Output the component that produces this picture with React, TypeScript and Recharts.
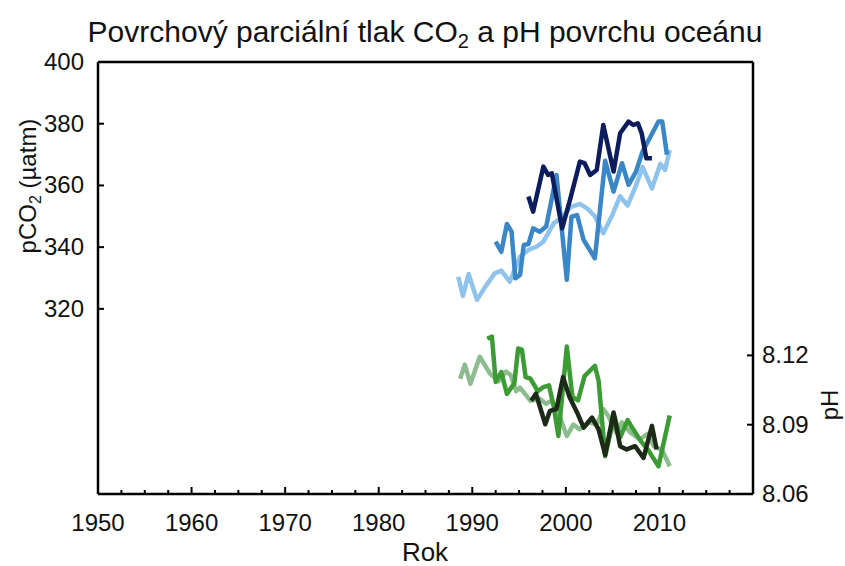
import React from "react";
import { LineChart, Line, XAxis, YAxis } from "recharts";

// pCO2 series (µatm)
const lightBlueYears = [1988.5, 1989.0, 1989.6, 1990.5, 1991.4, 1992.4, 1993.1, 1994.0, 1995.1, 1996.0, 1996.9, 1997.6, 1998.7, 1999.7, 2000.5, 2001.5, 2002.3, 2003.1, 2004.0, 2004.9, 2005.8, 2006.6, 2007.5, 2008.2, 2009.2, 2010.1, 2010.6, 2011.1];
const lightBlueCo2 = [330.4, 324.2, 331.3, 322.9, 327.2, 331.5, 332.4, 328.8, 336.9, 339.1, 340.2, 341.8, 347.7, 349.9, 353, 354, 352.5, 350, 344.5, 350, 356.5, 353.5, 360, 366, 359, 367, 365, 371.5];

const midBlueYears = [1992.5, 1993.1, 1993.7, 1994.2, 1994.6, 1995.1, 1995.5, 1996.0, 1996.5, 1997.2, 1997.9, 1999.0, 2000.1, 2000.6, 2001.2, 2001.9, 2003.1, 2004.2, 2005.1, 2006.0, 2006.7, 2007.5, 2008.2, 2009.9, 2010.3, 2010.8];
const midBlueCo2 = [341.8, 338.5, 347.5, 345, 329.9, 331, 340.7, 341, 346.1, 345, 346.7, 363.4, 329.4, 349.9, 350.4, 342.3, 336.4, 368, 358, 367.2, 360.2, 364.5, 371, 380.7, 380.7, 370];

const navyYears = [1996.0, 1996.5, 1997.6, 1998.1, 1998.5, 1999.6, 2000.4, 2001.5, 2002.0, 2002.6, 2003.3, 2004.0, 2005.1, 2005.8, 2006.7, 2007.2, 2007.7, 2008.1, 2008.6, 2009.2];
const navyCo2 = [356.4, 351.5, 366.1, 363.4, 363.9, 346.1, 354.8, 367.7, 367.2, 363.4, 365, 379.6, 364.5, 376.9, 380.7, 379.6, 380.1, 376.9, 368.8, 368.8];

// pH series
const lightGreenYears = [1988.7, 1989.2, 1989.8, 1990.8, 1991.9, 1992.8, 1993.6, 1994.1, 1994.7, 1995.1, 1995.7, 1996.2, 1997.2, 1997.9, 1998.5, 1999.4, 2000.1, 2000.8, 2001.5, 2002.5, 2003.3, 2004.0, 2004.5, 2005.4, 2006.0, 2006.9, 2007.9, 2008.7, 2009.4, 2010.3, 2011.1];
const lightGreenPh = [8.1099, 8.116, 8.1077, 8.1194, 8.1121, 8.1088, 8.113, 8.1115, 8.1045, 8.106, 8.103, 8.1004, 8.1012, 8.099, 8.1005, 8.093, 8.0851, 8.09, 8.088, 8.091, 8.09, 8.0968, 8.094, 8.0866, 8.091, 8.0866, 8.0836, 8.086, 8.0807, 8.079, 8.072];

const midGreenYears = [1991.6, 1992.1, 1992.5, 1993.1, 1993.7, 1994.5, 1994.9, 1995.3, 1995.7, 1996.2, 1997.0, 1997.6, 1998.2, 1998.7, 1999.2, 2000.1, 2000.7, 2001.3, 2002.0, 2003.1, 2003.5, 2004.2, 2004.8, 2005.2, 2005.8, 2006.6, 2007.2, 2008.0, 2008.8, 2009.9, 2011.1];
const midGreenPh = [8.1272, 8.1281, 8.1085, 8.1128, 8.1033, 8.108, 8.123, 8.1225, 8.1106, 8.11, 8.1045, 8.1063, 8.107, 8.098, 8.0851, 8.1238, 8.102, 8.1005, 8.111, 8.1155, 8.109, 8.0763, 8.087, 8.0935, 8.0845, 8.092, 8.088, 8.083, 8.079, 8.072, 8.094];

const darkGreenYears = [1996.3, 1996.8, 1997.8, 1998.3, 1999.0, 1999.7, 2000.4, 2001.2, 2001.9, 2002.8, 2003.5, 2004.2, 2005.1, 2005.8, 2006.5, 2007.4, 2008.3, 2009.2, 2009.7];
const darkGreenPh = [8.1004, 8.1034, 8.0902, 8.096, 8.0968, 8.1106, 8.1019, 8.0953, 8.0887, 8.0931, 8.088, 8.077, 8.0953, 8.0807, 8.0793, 8.0807, 8.0756, 8.0895, 8.0793];

// ticks
const xTicks = [1950, 1952.5, 1955, 1957.5, 1960, 1962.5, 1965, 1967.5, 1970, 1972.5, 1975, 1977.5, 1980, 1982.5, 1985, 1987.5, 1990, 1992.5, 1995, 1997.5, 2000, 2002.5, 2005, 2007.5, 2010, 2012.5, 2015, 2017.5];
const topTicks = [1960, 1970, 1980, 1990, 2000, 2010];
const co2Ticks = [320, 340, 360, 380, 400];
const phTicks = [8.06, 8.09, 8.12];

const toPoints = (years: number[], vals: number[]) =>
  years.map((year, i) => ({ year, value: vals[i] }));

const FONT = "'Liberation Sans', Arial, sans-serif";
const TICK_FS = 24;

const BottomTick = (props: any) => {
  const { x, y, payload } = props;
  const v = payload.value;
  const major = v % 10 === 0;
  return (
    <g>
      <line x1={x} x2={x} y1={y} y2={y - (major ? 7 : 4)} stroke="#000" strokeWidth={2} />
      {major && v <= 2010 && (
        <text x={x} y={y + 37} textAnchor="middle" fontSize={TICK_FS} fontFamily={FONT} fill="#111">
          {v}
        </text>
      )}
    </g>
  );
};

const TopTick = (props: any) => {
  const { x, y } = props;
  return <line x1={x} x2={x} y1={y} y2={y + 7} stroke="#000" strokeWidth={2} />;
};

const LeftTick = (props: any) => {
  const { x, y, payload } = props;
  return (
    <g>
      <line x1={x} x2={x + 6} y1={y} y2={y} stroke="#000" strokeWidth={2} />
      <text x={x - 14} y={y + 8} textAnchor="end" fontSize={TICK_FS} fontFamily={FONT} fill="#111">
        {payload.value}
      </text>
    </g>
  );
};

const RightTick = (props: any) => {
  const { x, y, payload } = props;
  return (
    <g>
      <line x1={x} x2={x - 6} y1={y} y2={y} stroke="#000" strokeWidth={2} />
      <text x={x + 9} y={y + 8} textAnchor="start" fontSize={TICK_FS} fontFamily={FONT} fill="#111">
        {payload.value.toFixed(2)}
      </text>
    </g>
  );
};

export default function App() {
  return (
    <div style={{ position: "absolute", left: 0, top: 0, background: "#fff" }}>
      <LineChart width={845} height={566} margin={{ top: 42, right: 32, bottom: 12, left: 38 }}>
        <XAxis
          xAxisId="bottom"
          dataKey="year"
          type="number"
          domain={[1950, 2020]}
          ticks={xTicks}
          interval={0}
          tickSize={0}
          tickMargin={0}
          tickLine={false}
          tick={<BottomTick />}
          height={60}
          allowDataOverflow
          axisLine={{ stroke: "#000", strokeWidth: 2.5 }}
        />
        <XAxis
          xAxisId="top"
          orientation="top"
          dataKey="year"
          type="number"
          domain={[1950, 2020]}
          ticks={topTicks}
          interval={0}
          tickSize={0}
          tickMargin={0}
          tickLine={false}
          tick={<TopTick />}
          height={20}
          axisLine={{ stroke: "#000", strokeWidth: 2.5 }}
        />
        <YAxis
          yAxisId="co2"
          domain={[260, 400]}
          ticks={co2Ticks}
          interval={0}
          width={60}
          tickSize={0}
          tickMargin={0}
          tickLine={false}
          tick={<LeftTick />}
          allowDataOverflow
          axisLine={{ stroke: "#000", strokeWidth: 2.5 }}
        />
        <YAxis
          yAxisId="ph"
          orientation="right"
          domain={[8.06, 8.247]}
          ticks={phTicks}
          interval={0}
          width={60}
          tickSize={0}
          tickMargin={0}
          tickLine={false}
          tick={<RightTick />}
          allowDataOverflow
          axisLine={{ stroke: "#000", strokeWidth: 2.5 }}
        />

        <Line xAxisId="bottom" yAxisId="co2" data={toPoints(lightBlueYears, lightBlueCo2)} dataKey="value" stroke="#90c3eb" strokeWidth={4.5} dot={false} strokeLinejoin="round" isAnimationActive={false} />
        <Line xAxisId="bottom" yAxisId="co2" data={toPoints(midBlueYears, midBlueCo2)} dataKey="value" stroke="#3b86c6" strokeWidth={4.5} dot={false} strokeLinejoin="round" isAnimationActive={false} />
        <Line xAxisId="bottom" yAxisId="co2" data={toPoints(navyYears, navyCo2)} dataKey="value" stroke="#0c1c5c" strokeWidth={4.5} dot={false} strokeLinejoin="round" isAnimationActive={false} />
        <Line xAxisId="bottom" yAxisId="ph" data={toPoints(lightGreenYears, lightGreenPh)} dataKey="value" stroke="#8dbc8f" strokeWidth={4.5} dot={false} strokeLinejoin="round" isAnimationActive={false} />
        <Line xAxisId="bottom" yAxisId="ph" data={toPoints(midGreenYears, midGreenPh)} dataKey="value" stroke="#3c9b34" strokeWidth={4.5} dot={false} strokeLinejoin="round" isAnimationActive={false} />
        <Line xAxisId="bottom" yAxisId="ph" data={toPoints(darkGreenYears, darkGreenPh)} dataKey="value" stroke="#1d2a17" strokeWidth={4.5} dot={false} strokeLinejoin="round" isAnimationActive={false} />

        <text x={425} y={42} textAnchor="middle" fontSize={30} fontFamily={FONT} fill="#111">
          Povrchový parciální tlak CO<tspan fontSize={20} dy={6}>2</tspan>
          <tspan dy={-6}> a pH povrchu oceánu</tspan>
        </text>
        <text x={425} y={561} textAnchor="middle" fontSize={26} fontFamily={FONT} fill="#111">
          Rok
        </text>
        <text x={36} y={186} transform="rotate(-90 36 186)" textAnchor="middle" fontSize={24} fontFamily={FONT} fill="#111">
          pCO<tspan fontSize={16} dy={5}>2</tspan>
          <tspan dy={-5}> (µatm)</tspan>
        </text>
        <text x={838} y={405} transform="rotate(-90 838 405)" textAnchor="middle" fontSize={24} fontFamily={FONT} fill="#111">
          pH
        </text>
      </LineChart>
    </div>
  );
}
